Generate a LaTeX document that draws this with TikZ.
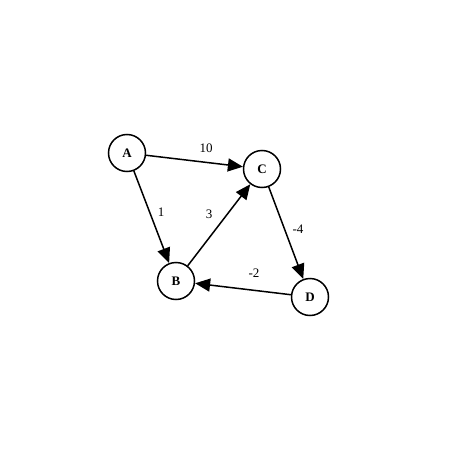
\documentclass[tikz,border=0pt]{standalone}
\usepackage{fontspec}
\setmainfont{Liberation Serif}
\usetikzlibrary{arrows.meta}
\begin{document}
\begin{tikzpicture}[x=1pt,y=-1pt,
  vtx/.style={circle,draw,line width=1.5pt,minimum size=37pt,inner sep=0pt,font=\fontsize{13}{14}\selectfont\bfseries},
  edge/.style={draw,line width=1.5pt,-{Triangle[length=15pt,width=13pt]}},
  lbl/.style={font=\fontsize{13}{14}\selectfont,inner sep=0pt}]
\useasboundingbox (0,0) rectangle (452,452);
\node[vtx] (A) at (127,153) {A};
\node[vtx] (C) at (262,169) {C};
\node[vtx] (B) at (176,281) {B};
\node[vtx] (D) at (310,297) {D};
\draw[edge] (A) -- (C);
\draw[edge] (A) -- (B);
\draw[edge] (B) -- (C);
\draw[edge] (C) -- (D);
\draw[edge] (D) -- (B);
\node[lbl] (l10) at (206,148) {10};
\node[lbl] (l1) at (161,212) {1};
\node[lbl] (l3) at (209,214) {3};
\node[lbl] (l4) at (298,229) {-4};
\node[lbl] (l2) at (254,273) {-2};
\end{tikzpicture}
\end{document}
